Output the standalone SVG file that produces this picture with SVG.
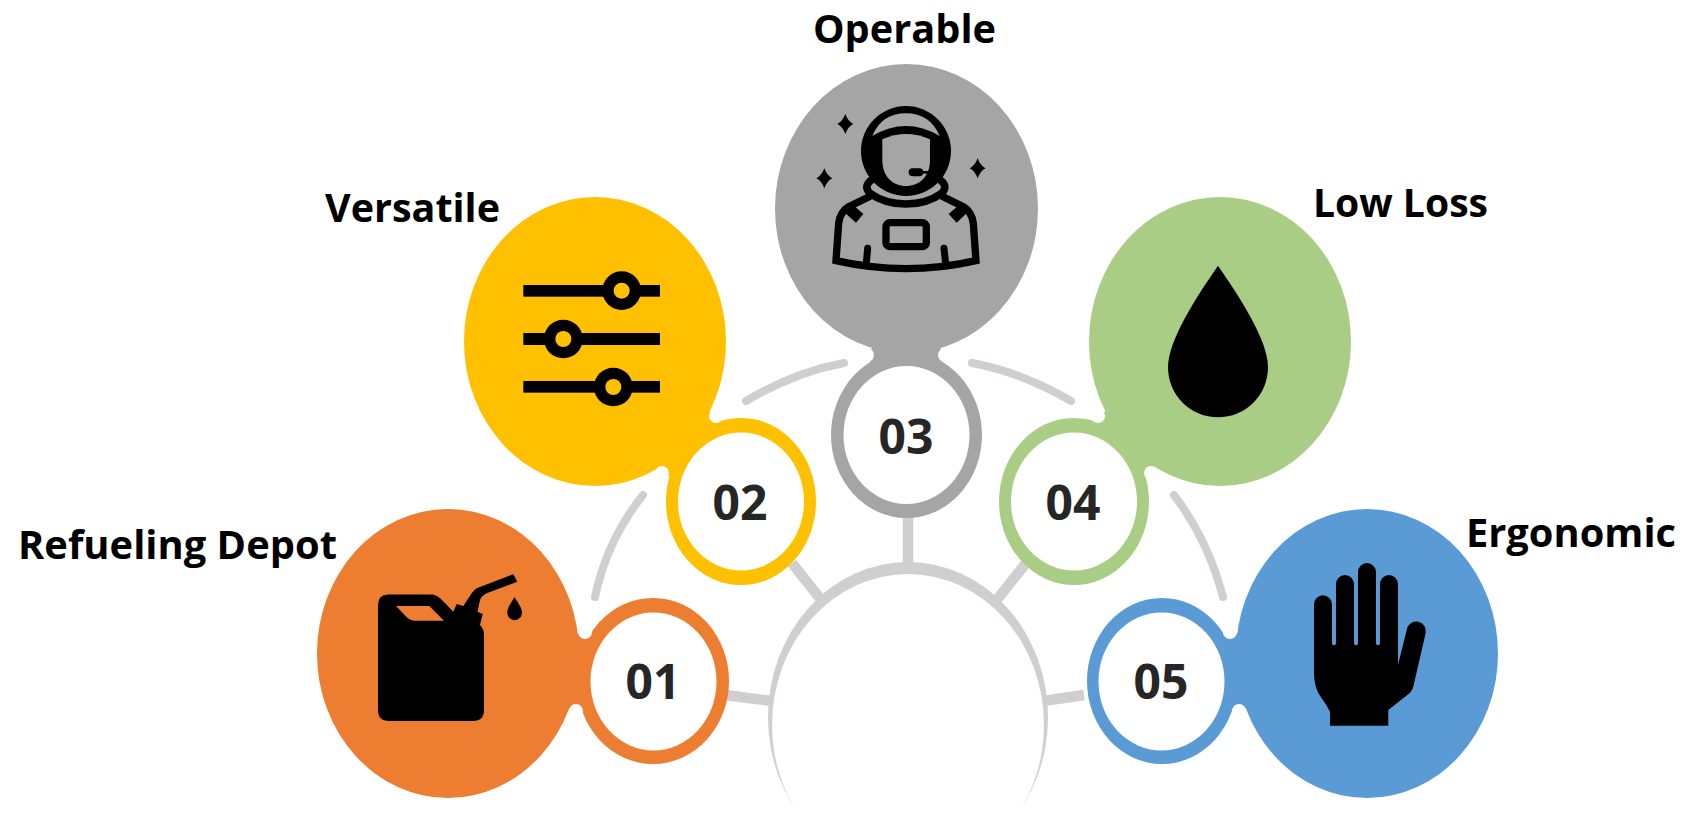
<svg xmlns="http://www.w3.org/2000/svg" width="1685" height="814" viewBox="0 0 1685 814">
<style>
.label{font-family:"Open Sans","Liberation Sans",sans-serif;font-weight:700;font-size:39px;fill:#000}
.num{font-family:"Open Sans","Liberation Sans",sans-serif;font-weight:700;font-size:48px;fill:#262626;text-anchor:middle}
.arc{fill:none;stroke:#d0cece;stroke-width:8;stroke-linecap:round}
.spoke{fill:none;stroke:#d0cece;stroke-width:10.5}
.w{fill:#fff}
.n1{fill:#ed7d31}.n2{fill:#ffc000}.n3{fill:#a5a5a5}.n4{fill:#aacd85}.n5{fill:#5b9bd5}
.k{fill:#000}
.ks{fill:none;stroke:#000}
</style>
<rect width="1685" height="814" fill="#fff"/>
<g id="connectors">
<path class="arc" d="M643 495Q607 540 595 597"/>
<path class="arc" d="M746 401Q795 372 844 363"/>
<path class="arc" d="M972 363Q1021 372 1071 401"/>
<path class="arc" d="M1174 495Q1208 540 1223 597"/>
<path class="spoke" d="M725 695L772 701"/>
<path class="spoke" d="M792 563L822 601"/>
<path class="spoke" d="M908 515V566"/>
<path class="spoke" d="M1026 563L996 601"/>
<path class="spoke" d="M1084 695L1043 701"/>
</g>
<g id="hub">
<ellipse cx="908" cy="717" rx="140" ry="155" fill="#d0cece"/>
<ellipse cx="908" cy="725" rx="136" ry="151" class="w"/>
</g>
<g id="node-01">
<ellipse class="n1" cx="448" cy="653.500" rx="131" ry="144.500"/>
<ellipse class="n1" cx="653" cy="681" rx="76" ry="83"/>
<path class="n1" d="M585 632L653 681L576 711L448 653Z"/>
<circle class="w" cx="585" cy="632" r="7"/><circle class="w" cx="576" cy="711" r="7"/>
<ellipse class="w" cx="653.500" cy="681.500" rx="63" ry="69"/>
<path class="k" fill-rule="evenodd" d="M388 594.500H433Q437 595 441 599L453.300 611.700L456.700 604L463.300 606L471.700 593.300Q474 590 476.700 588.300L513.300 574.300L517.300 581.700L486.700 593.300Q481.500 596 480 600L477.500 611.700L482.700 614L480 625Q484 629 484 635V710Q484 721 473 721H389Q378 721 378 710V605Q378 594.500 388 594.500ZM396 606H429.300L444 620.700H415Q410 620.500 407 617.500Z"/>
<path class="k" d="M514.500 597C511 603 507.300 607.500 507.300 612.800A7.300 7.300 0 0 0 522 612.800C522 607.500 518 603 514.500 597Z"/>
<text class="num" x="653" y="699">01</text>
<text class="label" x="18" y="559" textLength="319" lengthAdjust="spacingAndGlyphs">Refueling Depot</text>
</g>
<g id="node-02">
<ellipse class="n2" cx="595" cy="341.500" rx="131" ry="144.500"/>
<ellipse class="n2" cx="741" cy="501.500" rx="75" ry="83.500"/>
<path class="n2" d="M716 416L741 501L662 473L595 341Z"/>
<circle class="w" cx="716" cy="416" r="7"/><circle class="w" cx="662" cy="473" r="7"/>
<ellipse class="w" cx="741" cy="501.500" rx="63" ry="69"/>
<g transform="translate(500 260) scale(.3333)">
<rect class="k" x="70" y="75" width="410" height="35"/><rect class="k" x="70" y="219" width="410" height="36"/><rect class="k" x="70" y="363" width="410" height="35"/>
<circle class="k" cx="365" cy="92" r="58"/><circle class="n2" cx="365" cy="92" r="24"/>
<circle class="k" cx="190" cy="237" r="58"/><circle class="n2" cx="190" cy="237" r="24"/>
<circle class="k" cx="340" cy="381" r="58"/><circle class="n2" cx="340" cy="381" r="24"/>
</g>
<text class="num" x="740" y="520">02</text>
<text class="label" x="325" y="222" textLength="175" lengthAdjust="spacingAndGlyphs">Versatile</text>
</g>
<g id="node-03">
<ellipse class="n3" cx="906.500" cy="208.500" rx="131.500" ry="144.500"/>
<ellipse class="n3" cx="906.500" cy="435" rx="75.500" ry="83"/>
<path class="n3" d="M867 355L906 300L945 355L906 435Z"/>
<circle class="w" cx="867" cy="355" r="7"/><circle class="w" cx="945" cy="355" r="7"/>
<ellipse class="w" cx="906.500" cy="435" rx="63" ry="69"/>
<g transform="translate(760 50) scale(.3333)">
<circle class="k" cx="438" cy="303" r="135"/>
<path class="n3" d="M337 258Q365 190 438 190Q510 190 539 258Q438 198 337 258Z"/>
<path class="n3" d="M367 268Q438 236 510 268V330C510 380 478 408 438 408C398 408 367 380 367 330Z"/>
<path class="ks" stroke-width="24" stroke-linecap="round" d="M458 367H478"/><path class="ks" stroke-width="8" d="M470 367H508"/>
<path class="ks" stroke-width="23" stroke-linecap="round" d="M332 392Q310 410 330 430Q375 462 438 462Q500 462 545 430Q565 410 543 392"/>
<path class="ks" stroke-width="22" stroke-linejoin="miter" d="M332 438L266 470Q240 486 236 520L228 632Q438 680 648 632L640 520Q636 486 610 470L545 438"/>
<path class="k" d="M256 490L280 466L310 492L288 518Z"/><path class="k" d="M620 490L596 466L566 492L590 518Z"/>
<rect class="ks" stroke-width="22" x="378" y="518" width="121" height="72" rx="12"/>
<path class="ks" stroke-width="21" stroke-linecap="round" d="M323 595L319 640M552 595L557 640"/>
<path class="k" d="M256 192Q264 214 280 222Q264 230 256 252Q248 230 232 222Q248 214 256 192Z"/>
<path class="k" d="M193 355Q201 377 217 385Q201 393 193 415Q185 393 169 385Q185 377 193 355Z"/>
<path class="k" d="M653 325Q661 347 677 355Q661 363 653 385Q645 363 629 355Q645 347 653 325Z"/>
</g>
<text class="num" x="906" y="454">03</text>
<text class="label" x="813" y="43" textLength="183" lengthAdjust="spacingAndGlyphs">Operable</text>
</g>
<g id="node-04">
<ellipse class="n4" cx="1220" cy="341.500" rx="131" ry="144.500"/>
<ellipse class="n4" cx="1074" cy="501.500" rx="75" ry="83.500"/>
<path class="n4" d="M1098 416L1074 501L1151 473L1220 341Z"/>
<circle class="w" cx="1098" cy="416" r="7"/><circle class="w" cx="1151" cy="473" r="7"/>
<ellipse class="w" cx="1074" cy="501.500" rx="63" ry="69"/>
<path class="k" transform="translate(1150 250) scale(.3333)" d="M204 47C140 140 54 270 54 352A150 150 0 0 0 354 352C354 270 268 140 204 47Z"/>
<text class="num" x="1073" y="520">04</text>
<text class="label" x="1313" y="217" textLength="175" lengthAdjust="spacingAndGlyphs">Low Loss</text>
</g>
<g id="node-05">
<ellipse class="n5" cx="1367" cy="653.500" rx="131" ry="144.500"/>
<ellipse class="n5" cx="1162" cy="681" rx="75" ry="83"/>
<path class="n5" d="M1230 632L1161 681L1239 711L1367 653Z"/>
<circle class="w" cx="1230" cy="632" r="7"/><circle class="w" cx="1239" cy="711" r="7"/>
<ellipse class="w" cx="1161.500" cy="681.500" rx="63" ry="69"/>
<path class="k" transform="translate(1060 490) scale(.3333)" d="M762 343A27 27 0 0 1 816 343V460Q816 466 822 466Q828 466 828 460V282A27 27 0 0 1 882 282V460Q882 466 888 466Q894 466 894 460V246A27 27 0 0 1 948 246V460Q948 466 954 466Q960 466 960 460V282A27 27 0 0 1 1014 282V525L1041 417A28 28 0 0 1 1097 430L1060 590Q1056 605 1042 615L985 660V707H810V665Q800 645 785 625Q762 595 762 550Z"/>
<text class="num" x="1161" y="699">05</text>
<text class="label" x="1466" y="547" textLength="210" lengthAdjust="spacingAndGlyphs">Ergonomic</text>
</g>
</svg>
